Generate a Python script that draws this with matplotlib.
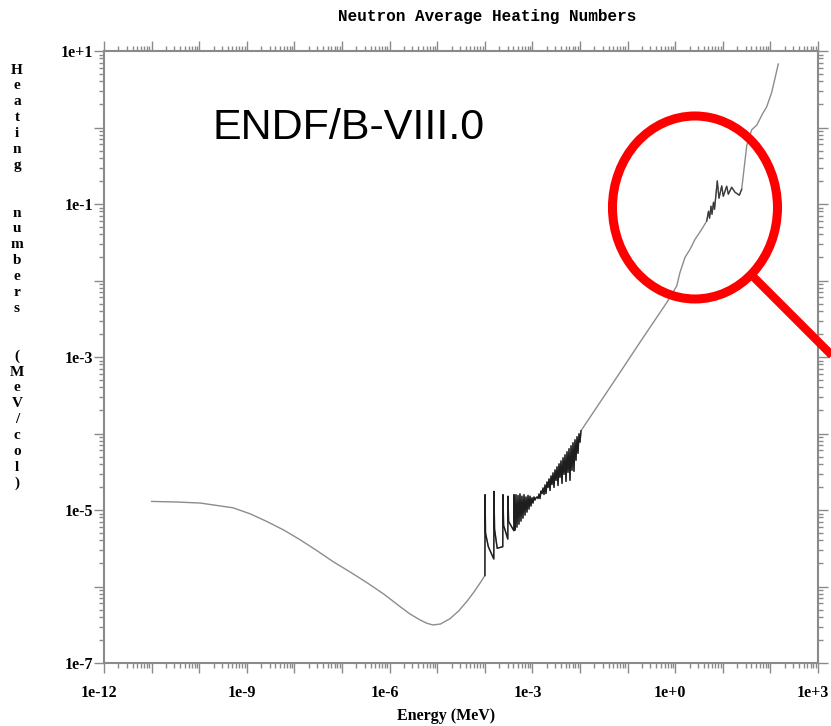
import numpy as np
import matplotlib
matplotlib.use("Agg")
import matplotlib.pyplot as plt
from matplotlib.patches import Ellipse
from matplotlib.ticker import LogLocator, FuncFormatter, NullFormatter
from matplotlib.transforms import ScaledTranslation

# heating numbers, stored as log10 exponents: energy in MeV, heating in MeV/col
# thermal / epithermal smooth part
low_e = [-11.00, -10.50, -9.98, -9.29, -8.93, -8.58, -8.23, -7.88, -7.53, -7.19,
         -6.83, -6.47, -6.12, -5.78, -5.57, -5.36, -5.22, -5.09, -4.93, -4.73,
         -4.55, -4.37, -4.22, -4.10]
low_h = [-4.888, -4.895, -4.909, -4.971, -5.05, -5.15, -5.26, -5.389, -5.53, -5.674,
         -5.81, -5.952, -6.10, -6.263, -6.36, -6.437, -6.48, -6.503, -6.49, -6.42,
         -6.32, -6.19, -6.065, -5.955]

# resolved resonance range
res_e = [-3.998, -3.994, -3.985, -3.926, -3.811, -3.807, -3.795, -3.740, -3.623, -3.618,
         -3.605, -3.517, -3.513, -3.500, -3.390, -3.387, -3.375, -3.366,
         -3.345, -3.324, -3.303, -3.282, -3.261, -3.240, -3.219, -3.198, -3.176, -3.155,
         -3.134, -3.113, -3.092, -3.071, -3.050, -3.029, -3.008, -2.987, -2.966, -2.945,
         -2.924, -2.903,
         -2.882, -2.861, -2.840, -2.819, -2.798, -2.777, -2.756, -2.735, -2.714, -2.693,
         -2.672, -2.651, -2.630, -2.609, -2.588, -2.567, -2.546, -2.525, -2.504, -2.483,
         -2.462, -2.441, -2.420, -2.399, -2.378, -2.357, -2.336, -2.315, -2.294, -2.273,
         -2.252, -2.231, -2.210, -2.189, -2.168, -2.147, -2.126, -2.105, -2.084, -2.063,
         -2.042, -2.021, -2.000, -1.979]
res_h = [-5.857, -4.800, -5.300, -5.480, -5.640, -4.757, -5.250, -5.500, -5.480, -4.800,
         -5.200, -5.380, -4.820, -5.150, -5.270, -4.800, -5.120, -5.263,
         -4.800, -5.224, -4.810, -5.185, -4.790, -5.145, -4.820, -5.106, -4.800, -5.066,
         -4.830, -5.027, -4.810, -4.988, -4.820, -4.948, -4.840, -4.909, -4.830, -4.869,
         -4.840, -4.830,
         -4.849, -4.791, -4.850, -4.752, -4.784, -4.712, -4.797, -4.673, -4.784, -4.633,
         -4.706, -4.594, -4.744, -4.555, -4.666, -4.515, -4.704, -4.476, -4.613, -4.436,
         -4.679, -4.397, -4.573, -4.358, -4.652, -4.318, -4.534, -4.279, -4.626, -4.239,
         -4.508, -4.200, -4.612, -4.161, -4.481, -4.121, -4.494, -4.082, -4.350, -4.042,
         -4.259, -4.003, -4.114, -3.964]

# unresolved / fast range up to a few MeV
fast_e = [-1.20, -0.70, -0.179, 0.031, 0.101, 0.206, 0.311, 0.416, 0.557, 0.662]
fast_h = [-3.24, -2.77, -2.290, -2.073, -1.894, -1.697, -1.593, -1.462, -1.331, -1.222]

# structured region below 20 MeV
wig_e = [0.700, 0.721, 0.752, 0.773, 0.805, 0.826, 0.857, 0.884, 0.920, 0.977,
         1.010, 1.082, 1.116, 1.187, 1.256, 1.347, 1.397]
wig_h = [-1.095, -1.187, -1.029, -1.134, -0.977, -1.069, -0.872, -0.698, -0.925, -0.764,
         -0.899, -0.768, -0.872, -0.781, -0.846, -0.885, -0.807]

# high energy tail
tail_e = [1.502, 1.607, 1.712, 1.845, 1.922, 2.027, 2.166]
tail_h = [-0.240, -0.030, 0.030, 0.190, 0.270, 0.459, 0.830]

x_labels = [-12, -9, -6, -3, 0, 3]
y_labels = [1, -1, -3, -5, -7]

ylabel_text = "Heating  numbers  (MeV/col)"

W, H = 831, 726
fig = plt.figure(figsize=(W / 100, H / 100), dpi=100)
ax_l, ax_r, ax_t, ax_b = 104, 818, 51, 663
ax = fig.add_axes([ax_l / W, 1 - ax_b / H, (ax_r - ax_l) / W, (ax_b - ax_t) / H])

E_all = np.power(10.0, np.concatenate([low_e, res_e, fast_e, wig_e, tail_e]))
H_all = np.power(10.0, np.concatenate([low_h, res_h, fast_h, wig_h, tail_h]))
ax.plot(E_all, H_all, color="#8c8c8c", lw=1.0)

# dense resonance structure drawn darker
ax.plot(np.power(10.0, res_e), np.power(10.0, res_h), color="#1e1e1e", lw=1.0)
ax.plot(np.power(10.0, [fast_e[-1]] + wig_e), np.power(10.0, [fast_h[-1]] + wig_h),
        color="#3a3a3a", lw=0.9)

ax.set_xscale("log")
ax.set_yscale("log")
ax.set_xlim(1e-12, 1e3)
ax.set_ylim(1e-7, 1e1)

ax.xaxis.set_major_locator(LogLocator(base=10, numticks=40))
ax.xaxis.set_minor_locator(LogLocator(base=10, subs=np.arange(2, 10), numticks=400))
ax.yaxis.set_major_locator(LogLocator(base=10, numticks=40))
ax.yaxis.set_minor_locator(LogLocator(base=10, subs=np.arange(2, 10), numticks=400))


def fmt_x(v, pos):
    e = int(round(np.log10(v)))
    return f"1e{e:+d}" if e in x_labels else ""


def fmt_y(v, pos):
    e = int(round(np.log10(v)))
    return f"1e{e:+d}" if e in y_labels else ""


ax.xaxis.set_major_formatter(FuncFormatter(fmt_x))
ax.yaxis.set_major_formatter(FuncFormatter(fmt_y))
ax.xaxis.set_minor_formatter(NullFormatter())
ax.yaxis.set_minor_formatter(NullFormatter())

frame = "#8a8a8a"
for s in ax.spines.values():
    s.set_color(frame)
    s.set_linewidth(1.5)
ax.tick_params(which="both", direction="out", color=frame, width=1.0,
               top=True, right=True)
ax.tick_params(which="major", length=7)
ax.tick_params(which="minor", length=3.5)
ax.tick_params(axis="x", which="major", pad=9)
ax.tick_params(axis="y", which="major", pad=1)

lab_font = dict(family="Liberation Serif", weight="bold", size=11.5)
for lab in ax.get_xticklabels() + ax.get_yticklabels():
    lab.set_fontfamily(lab_font["family"])
    lab.set_fontweight(lab_font["weight"])
    lab.set_fontsize(lab_font["size"])
shift = ScaledTranslation(-5 / 100, 0, fig.dpi_scale_trans)
for lab in ax.get_xticklabels():
    lab.set_transform(lab.get_transform() + shift)

fig.text(446 / W, 1 - 716 / H, "Energy (MeV)", ha="center", va="center",
         family="Liberation Serif", weight="bold", size=11.5)

fig.text(487 / W, 1 - 17 / H, "Neutron Average Heating Numbers", ha="center", va="center",
         family="Liberation Mono", weight="bold", size=11.5)

# vertical, letter-by-letter y label
step = 15.9
for i, ch in enumerate(ylabel_text):
    if ch == " ":
        continue
    fig.text(17 / W, 1 - (70 + i * step) / H, ch, ha="center", va="center",
             family="Liberation Serif", weight="bold", size=11)

fig.text(212 / W, 1 - 139 / H, "ENDF/B-VIII.0", ha="left", va="baseline",
         family="Liberation Sans", size=31, color="black")

# red highlight around the fast region
ring = Ellipse((0.8277, 0.7443), 0.2311, 0.299, transform=ax.transAxes,
               fill=False, ec="#ff0000", lw=6.5, clip_on=False, zorder=5)
ax.add_patch(ring)
ax.plot([0.9094, 1.0728], [0.6312, 0.4405], transform=ax.transAxes, color="#ff0000",
        lw=6.0, clip_on=False, solid_capstyle="butt", zorder=5)

fig.savefig("out.png", dpi=100)
